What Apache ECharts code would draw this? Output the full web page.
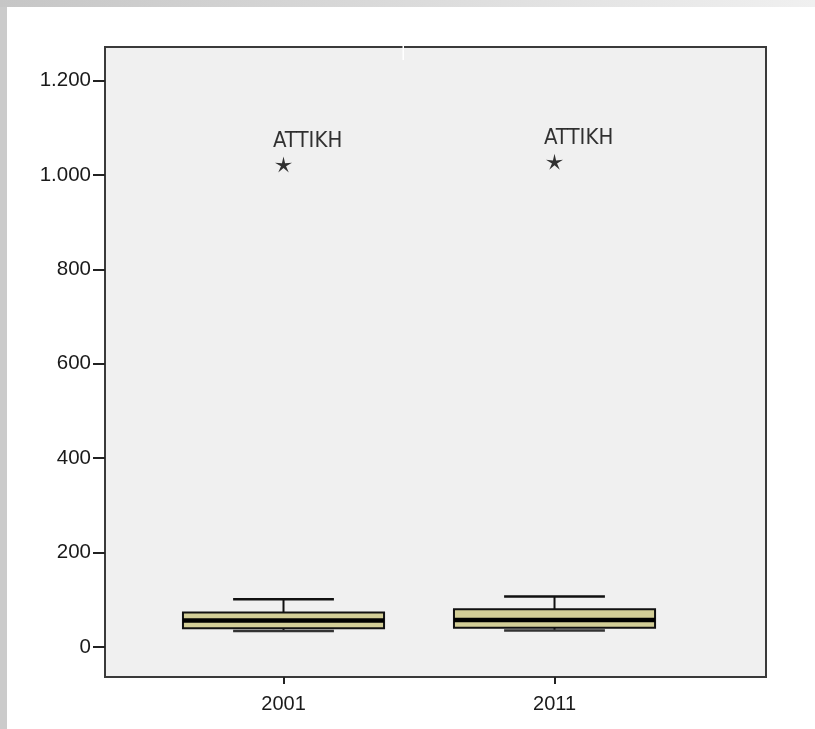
<!DOCTYPE html>
<html>
<head>
<meta charset="utf-8">
<script src="https://cdn.jsdelivr.net/npm/echarts@6/dist/echarts.min.js"></script>
<style>
html,body{margin:0;padding:0;background:#fff;}
#chart{width:815px;height:729px;}
</style>
</head>
<body>
<div id="chart"></div>
<script>
// ---- data ----
var categories = ['2001', '2011'];
// [lower whisker, Q1, median, Q3, upper whisker]
var box2001 = [34, 40, 56, 73, 101];
var box2011 = [35, 41, 57, 80, 107];
var outlierValues = [1022, 1028];
var outlierNames = ['ATTIKH', 'ATTIKH'];
var yTicks = [0, 200, 400, 600, 800, 1000, 1200];

var boxData = [
  [0].concat(box2001),
  [1].concat(box2011)
];
var outlierData = outlierValues.map(function (v, i) { return { value: [i, v], name: outlierNames[i] }; });

function fmtThousands(v) {
  if (v >= 1000) {
    var r = String(v % 1000);
    while (r.length < 3) r = '0' + r;
    return Math.floor(v / 1000) + '.' + r;
  }
  return String(v);
}

var starPath = 'path://M50 0 L58.82 37.87 L97.55 34.55 L64.27 54.64 L79.39 90.45 L50 65 L20.61 90.45 L35.73 54.64 L2.45 34.55 L41.18 37.87 Z';

var chart = echarts.init(document.getElementById('chart'), null, { renderer: 'canvas' });

var option = {
  backgroundColor: '#ffffff',
  animation: false,
  graphic: [
    { type: 'rect', shape: { x: 0, y: 0, width: 7, height: 729 }, style: { fill: '#cbcbcb' }, silent: true, z: 100 },
    { type: 'rect', shape: { x: 0, y: 0, width: 815, height: 7 }, style: {
        fill: new echarts.graphic.LinearGradient(0, 0, 1, 0, [
          { offset: 0, color: '#c6c6c6' }, { offset: 1, color: '#f0f0f0' }
        ]) }, silent: true, z: 100 },
    { type: 'rect', shape: { x: 402.5, y: 44, width: 1.5, height: 16 }, style: { fill: '#ffffff' }, silent: true, z: 100 }
  ],
  grid: {
    left: 105, top: 47, width: 661, height: 630,
    show: true, backgroundColor: '#f0f0f0', borderColor: '#3a3a3a', borderWidth: 2,
    containLabel: false
  },
  xAxis: {
    type: 'value',
    position: 'bottom',
    min: -0.6587, max: 1.7804,
    axisLine: { show: false, onZero: false },
    splitLine: { show: false },
    axisTick: { show: true, customValues: [0, 1], length: 7, inside: false, lineStyle: { color: '#222', width: 2 } },
    axisLabel: {
      show: true, customValues: [0, 1], margin: 17,
      formatter: function (v) { return categories[Math.round(v)]; },
      color: '#1a1a1a', fontFamily: 'Arial, "Liberation Sans", sans-serif', fontSize: 20
    }
  },
  yAxis: {
    type: 'value',
    position: 'left',
    min: -63.5, max: 1271,
    axisLine: { show: false, onZero: false },
    splitLine: { show: false },
    axisTick: { show: true, customValues: yTicks, length: 12, inside: false, lineStyle: { color: '#222', width: 2 } },
    axisLabel: {
      show: true, customValues: yTicks, margin: 14,
      formatter: function (v) { return fmtThousands(v); },
      color: '#1a1a1a', fontFamily: 'Arial, "Liberation Sans", sans-serif', fontSize: 20.5
    }
  },
  series: [
    {
      type: 'custom',
      data: boxData,
      encode: { x: 0, y: [1, 2, 3, 4, 5] },
      renderItem: function (params, api) {
        var x = api.value(0);
        var lo = api.value(1), q1 = api.value(2), md = api.value(3), q3 = api.value(4), hi = api.value(5);
        var bw = 0.371, cw = 0.186;
        var tl = api.coord([x - bw, q3]);
        var br = api.coord([x + bw, q1]);
        var pHi = api.coord([x, hi]);
        var pQ3 = api.coord([x, q3]);
        var pQ1 = api.coord([x, q1]);
        var pLo = api.coord([x, lo]);
        var pMd = api.coord([x, md]);
        var cL = api.coord([x - cw, hi])[0];
        var cR = api.coord([x + cw, hi])[0];
        var ink = '#111';
        return {
          type: 'group',
          children: [
            { type: 'line', shape: { x1: pHi[0], y1: pHi[1], x2: pQ3[0], y2: pQ3[1] }, style: { stroke: ink, lineWidth: 2 } },
            { type: 'line', shape: { x1: pLo[0], y1: pLo[1], x2: pQ1[0], y2: pQ1[1] }, style: { stroke: ink, lineWidth: 2 } },
            { type: 'line', shape: { x1: cL, y1: pHi[1], x2: cR, y2: pHi[1] }, style: { stroke: ink, lineWidth: 2.5 } },
            { type: 'rect', shape: { x: tl[0], y: tl[1], width: br[0] - tl[0], height: br[1] - tl[1] }, style: { fill: '#d3ce97', stroke: ink, lineWidth: 2 } },
            { type: 'line', shape: { x1: cL, y1: pLo[1], x2: cR, y2: pLo[1] }, style: { stroke: '#333', lineWidth: 2.5 } },
            { type: 'line', shape: { x1: tl[0], y1: pMd[1], x2: br[0], y2: pMd[1] }, style: { stroke: '#000', lineWidth: 4.5 } }
          ]
        };
      },
      z: 2
    },
    {
      type: 'scatter',
      data: outlierData,
      symbol: starPath,
      symbolSize: [17, 16],
      itemStyle: { color: '#000' },
      label: {
        show: true,
        position: [-2, -26],
        align: 'left',
        verticalAlign: 'top',
        formatter: function (p) { return p.name; },
        color: '#000',
        fontFamily: '"Liberation Sans Narrow", "Arial Narrow", "DejaVu Sans Condensed", Arial, sans-serif',
        fontSize: 22,
        lineHeight: 22
      },
      z: 3
    }
  ]
};
chart.setOption(option);
</script>
</body>
</html>
